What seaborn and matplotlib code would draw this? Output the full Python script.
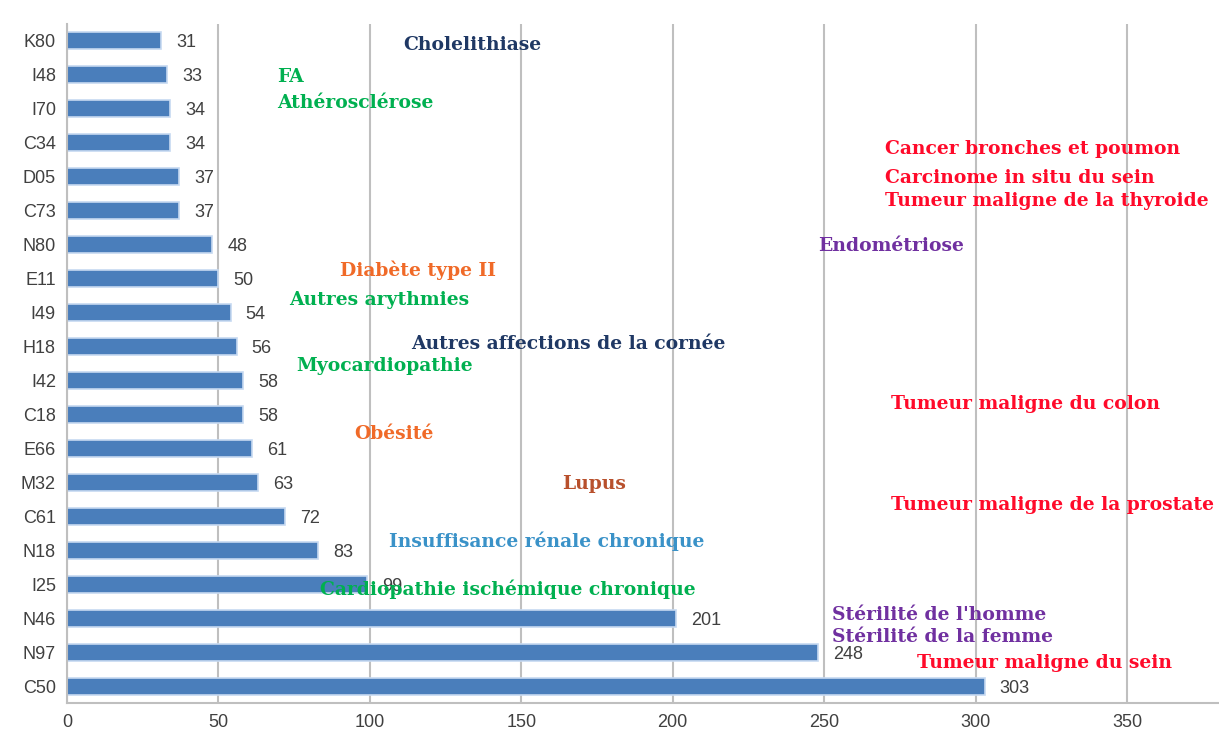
import seaborn as sns
import pandas as pd
import matplotlib.pyplot as plt
import numpy as np

codes = ["K80", "I48", "I70", "C34", "D05", "C73", "N80", "E11", "I49", "H18",
         "I42", "C18", "E66", "M32", "C61", "N18", "I25", "N46", "N97", "C50"]
counts = [31, 33, 34, 34, 37, 37, 48, 50, 54, 56,
          58, 58, 61, 63, 72, 83, 99, 201, 248, 303]

# disease name, x (count units), y (category row), colour
notes = [
    ("Cholelithiase", 111, 0.12, "#1F3864"),
    ("FA", 69.5, 1.06, "#00B050"),
    ("Athérosclérose", 69.5, 1.83, "#00B050"),
    ("Cancer bronches et poumon", 270, 3.18, "#FF0A2A"),
    ("Carcinome in situ du sein", 270, 4.04, "#FF0A2A"),
    ("Tumeur maligne de la thyroide", 270, 4.71, "#FF0A2A"),
    ("Endométriose", 248, 6.04, "#7030A0"),
    ("Diabète type II", 90, 6.77, "#F06A28"),
    ("Autres arythmies", 73.3, 7.63, "#00B050"),
    ("Autres affections de la cornée", 113.6, 8.92, "#1F3864"),
    ("Myocardiopathie", 75.6, 9.57, "#00B050"),
    ("Tumeur maligne du colon", 272, 10.69, "#FF0A2A"),
    ("Obésité", 95, 11.58, "#F06A28"),
    ("Lupus", 163.5, 13.05, "#B8502C"),
    ("Tumeur maligne de la prostate", 272, 13.67, "#FF0A2A"),
    ("Insuffisance rénale chronique", 106.3, 14.73, "#3A92C8"),
    ("Cardiopathie ischémique chronique", 83.6, 16.14, "#00B050"),
    ("Stérilité de l'homme", 252.6, 16.91, "#7030A0"),
    ("Stérilité de la femme", 252.6, 17.56, "#7030A0"),
    ("Tumeur maligne du sein", 280.7, 18.32, "#FF0A2A"),
]

sns.set_style("white")
plt.rcParams['font.family'] = ['Liberation Sans', 'DejaVu Sans']

df = pd.DataFrame({"code": codes, "count": counts})

fig = plt.figure(figsize=(12.19, 7.38), dpi=100)
ax = fig.add_axes([0.055, 0.047, 0.944, 0.921])

sns.barplot(data=df, x="count", y="code", orient="h", color="#4A7EBB",
            width=0.5, edgecolor="#C6D9F1", linewidth=1.2, saturation=1, ax=ax)

for i, v in enumerate(counts):
    ax.text(v + 5, i + 0.07, str(v), va="center", ha="left", fontsize=13,
            color="#404040", stretch="condensed")

for txt, x, y, c in notes:
    ax.text(x, y, txt, va="center", ha="left", fontsize=13.5, fontweight="bold",
            color=c, family=["DejaVu Serif"])

ax.set_xlim(0, 380)
ax.set_ylim(len(codes) - 0.5, -0.5)
ax.set_xticks(np.arange(0, 351, 50))
ax.xaxis.grid(True, color="#BFBFBF", linewidth=1.5)
ax.set_axisbelow(True)
ax.set_xlabel("")
ax.set_ylabel("")

ax.set_yticks(np.arange(-0.5, len(codes), 1), minor=True)
ax.tick_params(axis="y", which="major", length=0, pad=8, labelsize=13, labelcolor="#404040")
ax.tick_params(axis="y", which="minor", length=5, color="#BFBFBF", width=1.2)
ax.tick_params(axis="x", length=4, color="#BFBFBF", labelsize=13, labelcolor="#404040")

for s in ["top", "right"]:
    ax.spines[s].set_visible(False)
for s in ["left", "bottom"]:
    ax.spines[s].set_color("#BFBFBF")
    ax.spines[s].set_linewidth(1.5)

fig.savefig("out.png", dpi=100)
